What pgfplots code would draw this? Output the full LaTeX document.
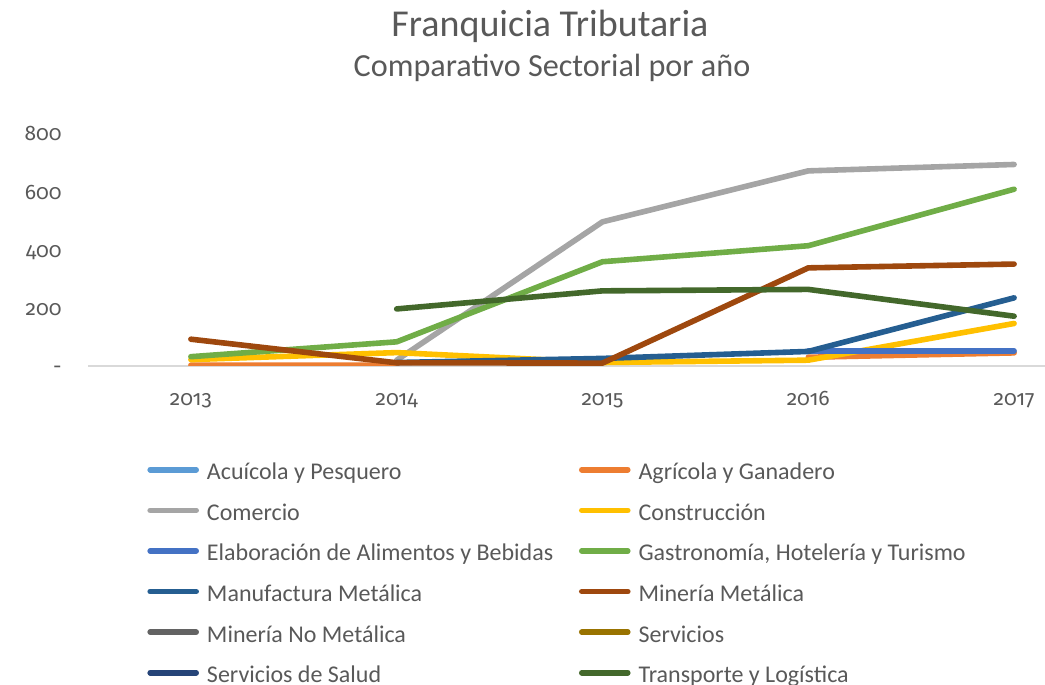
\documentclass[border=0pt]{standalone}
\usepackage{fontspec}
\setmainfont{Carlito}
\newfontfamily\numfont{Fira Sans}[Numbers=OldStyle]
\usepackage{pgfplots}
\pgfplotsset{compat=1.18}

\definecolor{txt}{HTML}{595959}
\definecolor{axisgray}{HTML}{D9D9D9}
\definecolor{cAcu}{HTML}{5B9BD5}
\definecolor{cAgr}{HTML}{ED7D31}
\definecolor{cCom}{HTML}{A5A5A5}
\definecolor{cCon}{HTML}{FFC000}
\definecolor{cEla}{HTML}{4472C4}
\definecolor{cGas}{HTML}{70AD47}
\definecolor{cMan}{HTML}{255E91}
\definecolor{cMin}{HTML}{9E480E}
\definecolor{cMnm}{HTML}{636363}
\definecolor{cSer}{HTML}{997300}
\definecolor{cSal}{HTML}{264478}
\definecolor{cTra}{HTML}{43682B}

\newcommand{\lcol}[1]{\makebox[182pt][l]{#1}}

\begin{document}
\begin{tikzpicture}[x=1pt,y=1pt]
\clip (0,0) rectangle (522.5,342.5);
\node[text=txt, font=\fontsize{19}{21}\selectfont, anchor=base, inner sep=0pt] at (275,324.2) {Franquicia Tributaria};
\node[text=txt, font=\fontsize{16.1}{19}\selectfont, anchor=base, inner sep=0pt] at (276,304.2) {Comparativo Sectorial por año};
\begin{axis}[
  at={(44pt,159.5pt)},
  anchor=south west,
  scale only axis,
  width=514.5pt,
  height=116.5pt,
  xmin=-0.5, xmax=4.5,
  ymin=0, ymax=800,
  xtick={0,1,2,3,4},
  xticklabels={2013,2014,2015,2016,2017},
  ytick={0,200,400,600,800},
  yticklabels={-,200,400,600,800},
  axis x line*=bottom,
  axis y line*=left,
  x axis line style={draw=axisgray, line width=1pt, -},
  y axis line style={draw=none},
  tick style={draw=none},
  tick label style={font=\numfont\fontsize{10.5}{13}\selectfont, text=txt, inner sep=0pt},
  xticklabel style={anchor=base, yshift=-20pt},
  yticklabel style={anchor=base east, xshift=-13pt, yshift=-3.9pt},
  unbounded coords=jump,
  every axis plot/.append style={line width=2.8pt, line cap=round, line join=round, mark=none},
  legend image code/.code={\draw[#1, line width=2.8pt, line cap=round] (1.5pt,2pt) -- (24.5pt,2pt);},
  legend columns=2,
  legend cell align=left,
  legend style={
    draw=none, fill=none,
    at={(0.0515,-0.392)}, anchor=north west,
    font=\fontsize{12}{14}\selectfont, text=txt,
    column sep=4pt,
    row sep=8.3pt,
    nodes={inner sep=0pt, text height=9pt, text depth=3pt},
  },
]
\addlegendimage{cAcu}
\addlegendentry{\lcol{Acuícola y Pesquero}}
\addplot[cAgr] coordinates {(0,3) (1,3) (2,nan) (3,30) (4,45)};
\addlegendentry{Agrícola y Ganadero}
\addplot[cCom] coordinates {(1,20) (2,495) (3,670) (4,692)};
\addlegendentry{\lcol{Comercio}}
\addplot[cCon] coordinates {(0,22) (1,46) (2,12) (3,20) (4,146)};
\addlegendentry{Construcción}
\addplot[cEla] coordinates {(3,52) (4,52)};
\addlegendentry{\lcol{Elaboración de Alimentos y Bebidas}}
\addplot[cGas] coordinates {(0,32) (1,83) (2,358) (3,413) (4,607)};
\addlegendentry{Gastronomía, Hotelería y Turismo}
\addplot[cMan] coordinates {(1,12) (2,26) (3,50) (4,234)};
\addlegendentry{\lcol{Manufactura Metálica}}
\addplot[cMin] coordinates {(0,92) (1,11) (2,10) (3,337) (4,350)};
\addlegendentry{Minería Metálica}
\addlegendimage{cMnm}
\addlegendentry{\lcol{Minería No Metálica}}
\addlegendimage{cSer}
\addlegendentry{Servicios}
\addlegendimage{cSal}
\addlegendentry{\lcol{Servicios de Salud}}
\addplot[cTra] coordinates {(1,196) (2,258) (3,263) (4,171)};
\addlegendentry{Transporte y Logística}
\end{axis}
\end{tikzpicture}
\end{document}
